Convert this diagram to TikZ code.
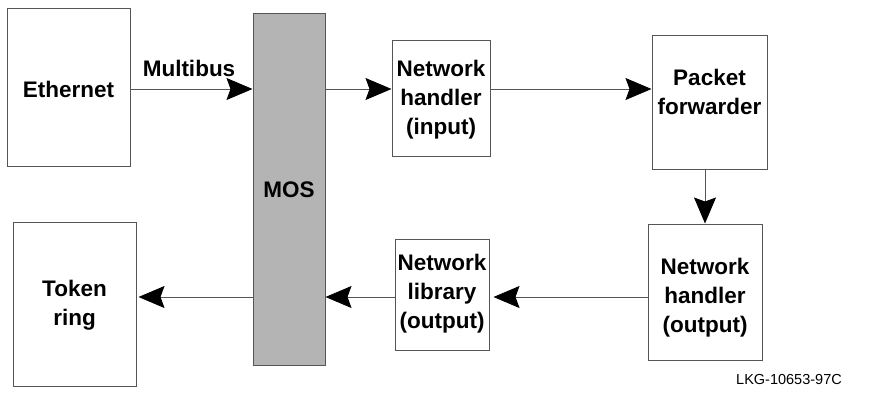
\documentclass[tikz,border=0pt]{standalone}
\usepackage{fontspec}
\setmainfont{Liberation Sans}
\usetikzlibrary{arrows.meta}
\definecolor{linegray}{HTML}{555555}
\definecolor{mosgray}{HTML}{B4B4B4}
\tikzset{
  box/.style={draw=linegray, line width=1pt, fill=white, inner sep=0pt},
  lbl/.style={font=\fontsize{22.5}{29}\selectfont\bfseries, align=center, inner sep=0pt},
  arr/.style={draw=linegray, line width=1pt, -{Stealth[length=26pt,width=22pt,inset=4pt,black]}},
}
\begin{document}
\begin{tikzpicture}[x=1pt,y=-1pt]
\useasboundingbox (0,0) rectangle (880,394);
% boxes
\node[box, minimum width=123pt, minimum height=158pt] (eth) at (68.5,87) {};
\node[box, fill=mosgray, minimum width=72pt, minimum height=352pt] (mos) at (289,189) {};
\node[box, minimum width=98pt, minimum height=116pt] (nhi) at (441,98) {};
\node[box, minimum width=115pt, minimum height=134pt] (pf) at (709.5,102) {};
\node[box, minimum width=114pt, minimum height=136pt] (nho) at (705,292) {};
\node[box, minimum width=94pt, minimum height=111pt] (nl) at (442,294.5) {};
\node[box, minimum width=123pt, minimum height=164pt] (tr) at (74.5,304) {};
% texts
\node[lbl] (teth) at (68.5,89) {Ethernet};
\node[lbl] (tmos) at (289,190) {MOS};
\node[lbl] (tnhi) at (441,100) {Network\\handler\\(input)};
\node[lbl] (tpf) at (709.5,92) {Packet\\forwarder};
\node[lbl] (tnho) at (705,298) {Network\\handler\\(output)};
\node[lbl] (tnl) at (442,294) {Network\\library\\(output)};
\node[lbl] (ttr) at (74.5,305) {Token\\ring};
\node[lbl] (tmb) at (189,68) {Multibus};
\node[font=\fontsize{14.5}{17}\selectfont, anchor=south east, inner sep=0pt] (fig) at (842,385) {LKG-10653-97C};
% rows
\coordinate (r1) at (0,89);
\coordinate (r2) at (0,297);
% connectors
\draw[arr] (eth.east |- r1) -- (mos.west |- r1);
\draw[arr] (mos.east |- r1) -- (nhi.west |- r1);
\draw[arr] (nhi.east |- r1) -- (pf.west |- r1);
\draw[arr] (pf.south -| nho.north) -- (nho.north);
\draw[arr] (nho.west |- r2) -- ([xshift=4pt]nl.east |- r2);
\draw[arr] (nl.west |- r2) -- (mos.east |- r2);
\draw[arr] (mos.west |- r2) -- ([xshift=2pt]tr.east |- r2);
\end{tikzpicture}
\end{document}
